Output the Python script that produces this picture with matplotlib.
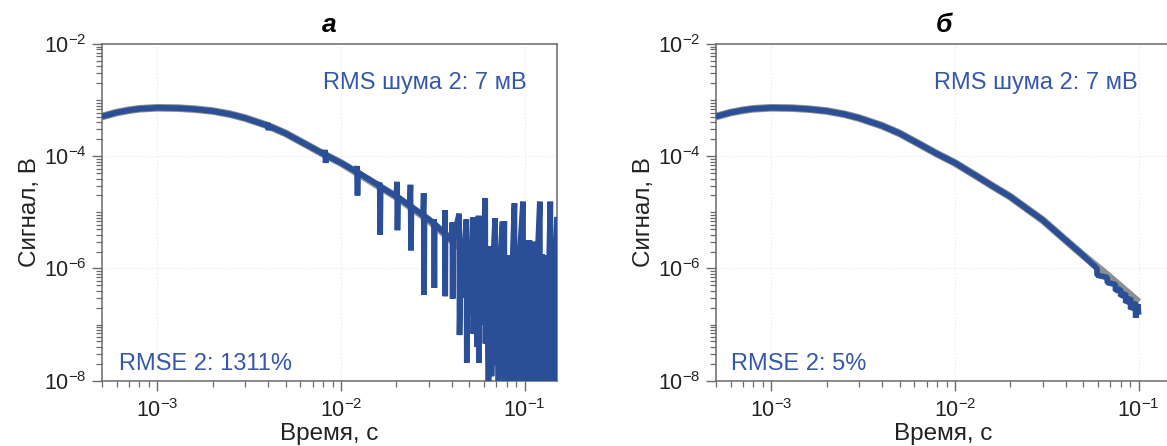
import matplotlib
matplotlib.use("Agg")
import matplotlib.pyplot as plt
from matplotlib.ticker import LogLocator, NullFormatter

plt.rcParams['font.family'] = ['Liberation Sans', 'DejaVu Sans']
plt.rcParams['mathtext.fontset'] = 'custom'
plt.rcParams['mathtext.rm'] = 'Liberation Sans'
plt.rcParams['mathtext.it'] = 'Liberation Sans:italic'
plt.rcParams['mathtext.bf'] = 'Liberation Sans:bold'
plt.rcParams['mathtext.default'] = 'regular'
plt.rcParams['path.simplify'] = False

# ---- data ----
titles = ['а', 'б']
noise_text = 'RMS шума 2: 7 мВ'
rmse_texts = ['RMSE 2: 1311%', 'RMSE 2: 5%']

# smooth model curve (gray)
time_model_a = [5e-4, 6e-4, 7e-4, 8e-4, 1e-3, 1.3e-3, 1.6e-3, 2e-3, 2.5e-3, 3e-3, 4e-3, 5e-3,
                6.5e-3, 8e-3, 1e-2, 1.3e-2, 1.6e-2, 2e-2, 2.5e-2, 3e-2, 4e-2, 5e-2, 6.5e-2,
                8e-2, 1e-1, 1.25e-1, 1.5e-1]
signal_model_a = [5.1e-4, 6.0e-4, 6.6e-4, 7.0e-4, 7.3e-4, 7.2e-4, 6.9e-4, 6.4e-4, 5.6e-4, 4.8e-4,
                  3.5e-4, 2.55e-4, 1.6e-4, 1.1e-4, 7.6e-5, 4.5e-5, 2.95e-5, 1.9e-5, 1.12e-5,
                  7.3e-6, 3.2e-6, 1.7e-6, 8.2e-7, 4.6e-7, 2.4e-7, 1.26e-7, 7.4e-8]

time_model_b = [5e-4, 6e-4, 7e-4, 8e-4, 1e-3, 1.3e-3, 1.6e-3, 2e-3, 2.5e-3, 3e-3, 4e-3, 5e-3,
                6.5e-3, 8e-3, 1e-2, 1.3e-2, 1.6e-2, 2e-2, 2.5e-2, 3e-2, 4e-2, 5e-2, 6.5e-2,
                8e-2, 1e-1]
signal_model_b = [5.1e-4, 6.0e-4, 6.6e-4, 7.0e-4, 7.3e-4, 7.2e-4, 6.9e-4, 6.4e-4, 5.6e-4, 4.8e-4,
                  3.5e-4, 2.55e-4, 1.6e-4, 1.1e-4, 7.6e-5, 4.5e-5, 2.95e-5, 1.9e-5, 1.12e-5,
                  7.3e-6, 3.2e-6, 1.7e-6, 8.4e-7, 4.7e-7, 2.5e-7]

# noisy measured signal, panel a
time_a = [5.0e-4, 6.0e-4, 7.0e-4, 8.0e-4, 1.0e-3, 1.3e-3, 1.6e-3, 2.0e-3, 2.5e-3, 3.0e-3,
          3.95e-3, 4.0e-3, 4.03e-3, 4.06e-3, 5.0e-3, 6.5e-3,
          8.15e-3, 8.2e-3, 8.25e-3, 8.3e-3, 1.0e-2,
          1.21e-2, 1.22e-2, 1.23e-2, 1.24e-2,
          1.6e-2, 1.625e-2, 1.635e-2, 1.645e-2,
          2.0e-2, 2.02e-2, 2.03e-2, 2.045e-2,
          2.37e-2, 2.39e-2, 2.405e-2, 2.42e-2,
          2.8e-2, 2.82e-2, 2.835e-2, 2.85e-2,
          3.2e-2, 3.21e-2, 3.225e-2, 3.24e-2,
          3.67e-2, 3.68e-2, 3.695e-2, 3.71e-2,
          4.03e-2, 4.04e-2, 4.055e-2, 4.07e-2,
          4.4e-2, 4.42e-2, 4.5e-2, 4.6e-2, 4.7e-2, 4.82e-2, 4.84e-2, 4.95e-2,
          5.05e-2, 5.15e-2, 5.24e-2, 5.26e-2, 5.4e-2, 5.5e-2, 5.61e-2, 5.63e-2,
          5.75e-2, 5.85e-2, 5.95e-2, 6.1e-2, 6.12e-2, 6.25e-2, 6.35e-2, 6.49e-2,
          6.6e-2, 6.75e-2, 6.9e-2, 6.92e-2, 7.05e-2, 7.2e-2, 7.35e-2, 7.58e-2,
          7.6e-2, 7.75e-2, 7.78e-2, 7.95e-2, 8.1e-2, 8.3e-2, 8.45e-2, 8.6e-2,
          8.8e-2, 8.82e-2, 9.0e-2, 9.2e-2, 9.4e-2, 9.8e-2, 9.82e-2, 1.0e-1,
          1.03e-1, 1.06e-1, 1.09e-1, 1.12e-1, 1.15e-1, 1.18e-1, 1.21e-1, 1.215e-1,
          1.24e-1, 1.27e-1, 1.30e-1, 1.33e-1, 1.36e-1, 1.38e-1, 1.385e-1, 1.41e-1,
          1.44e-1, 1.47e-1, 1.50e-1]
signal_a = [5.1e-4, 6.0e-4, 6.6e-4, 7.0e-4, 7.3e-4, 7.2e-4, 6.9e-4, 6.4e-4, 5.6e-4, 4.8e-4,
            3.55e-4, 3.9e-4, 2.9e-4, 3.45e-4, 2.55e-4, 1.6e-4,
            1.07e-4, 1.3e-4, 7.6e-5, 1.04e-4, 7.6e-5,
            5.3e-5, 6.7e-5, 2.0e-5, 5.1e-5,
            3.05e-5, 3.4e-5, 4.0e-6, 2.85e-5,
            1.92e-5, 3.5e-5, 4.8e-6, 1.85e-5,
            1.3e-5, 3.1e-5, 2.1e-6, 1.25e-5,
            8.9e-6, 2.2e-5, 3.4e-7, 8.6e-6,
            6.4e-6, 7.5e-6, 4.5e-7, 6.2e-6,
            4.2e-6, 1.1e-5, 3.2e-7, 4.1e-6,
            3.2e-6, 6.6e-6, 2.9e-7, 3.1e-6,
            9.5e-6, 6.5e-8, 2.6e-6, 3e-7, 2.4e-6, 7.5e-6, 2.1e-8, 2.0e-6,
            1.5e-7, 1.9e-6, 8.1e-6, 6.9e-8, 1.8e-6, 4e-8, 8.7e-6, 2.1e-8,
            1.7e-6, 1e-7, 1.6e-6, 1.8e-5, 4.6e-8, 1.5e-6, 3e-9, 2.5e-6,
            1.2e-8, 1.4e-6, 7.8e-6, 1.9e-8, 1.6e-6, 3e-9, 1.5e-6, 6.8e-6,
            1.35e-8, 7e-6, 2e-9, 1.6e-6, 5e-9, 1.7e-6, 3e-9, 1.5e-6,
            1.45e-5, 2e-9, 1.6e-6, 1e-8, 1.8e-6, 1.55e-5, 2e-9, 3.2e-6,
            1e-9, 3.2e-6, 2e-9, 3.0e-6, 5e-9, 2.2e-6, 1.55e-5, 2e-9,
            1.8e-6, 3e-9, 1.7e-6, 1e-9, 1.6e-6, 1.55e-5, 2e-9, 1.8e-6,
            4e-9, 1.6e-6, 8.3e-6]

# measured signal, panel b (small dips near the end)
time_b = [5e-4, 6e-4, 7e-4, 8e-4, 1e-3, 1.3e-3, 1.6e-3, 2e-3, 2.5e-3, 3e-3, 4e-3, 5e-3,
          6.5e-3, 8e-3, 1e-2, 1.3e-2, 1.6e-2, 2e-2, 2.5e-2, 3e-2, 4e-2, 5e-2,
          5.93e-2, 5.94e-2, 6.74e-2, 6.75e-2, 7.47e-2, 7.48e-2, 7.97e-2, 7.98e-2,
          8.49e-2, 8.5e-2, 9.03e-2, 9.04e-2, 9.62e-2, 9.63e-2, 9.9e-2, 1e-1]
signal_b = [5.1e-4, 6.0e-4, 6.6e-4, 7.0e-4, 7.3e-4, 7.2e-4, 6.9e-4, 6.4e-4, 5.6e-4, 4.8e-4,
            3.5e-4, 2.55e-4, 1.6e-4, 1.1e-4, 7.6e-5, 4.5e-5, 2.95e-5, 1.9e-5, 1.12e-5,
            7.3e-6, 3.2e-6, 1.7e-6,
            1.0e-6, 7.6e-7, 6.9e-7, 5.6e-7, 5.2e-7, 4.0e-7, 4.3e-7, 3.2e-7,
            3.6e-7, 2.45e-7, 3.0e-7, 1.87e-7, 2.5e-7, 1.33e-7, 2.3e-7, 1.5e-7]

xlim = (5e-4, 0.15)
ylim = (1e-8, 1e-2)

BLUE = '#2b4f97'
TEXT_BLUE = '#3558a8'
GRAY = '#8a8f8f'
SPINE = '#6a6a6a'

W, H = 1167, 446
fig = plt.figure(figsize=(W / 100, H / 100), dpi=100)
ax_a = fig.add_axes([102 / W, 1 - 380.7 / H, 455 / W, 336.7 / H])
ax_b = fig.add_axes([716 / W, 1 - 380.7 / H, 455 / W, 336.7 / H])

panels = [
    (ax_a, time_model_a, signal_model_a, time_a, signal_a),
    (ax_b, time_model_b, signal_model_b, time_b, signal_b),
]

for i, (ax, tm, vm, td, vd) in enumerate(panels):
    ax.set_xscale('log')
    ax.set_yscale('log')
    ax.plot(tm, vm, color=GRAY, lw=5.5, solid_capstyle='butt', zorder=2)
    ax.plot(td, vd, color=BLUE, lw=4.1, solid_joinstyle='bevel',
            solid_capstyle='butt', zorder=3)
    ax.set_xlim(*xlim)
    ax.set_ylim(*ylim)
    ax.set_xticks([1e-3, 1e-2, 1e-1])
    ax.set_yticks([1e-8, 1e-6, 1e-4, 1e-2])
    ax.xaxis.set_minor_locator(LogLocator(base=10, subs=range(2, 10), numticks=20))
    ax.yaxis.set_minor_locator(LogLocator(base=10, subs=range(1, 10), numticks=20))
    ax.xaxis.set_minor_formatter(NullFormatter())
    ax.yaxis.set_minor_formatter(NullFormatter())
    ax.tick_params(which='major', length=7, width=1.0, color=SPINE, labelsize=15.5,
                   labelcolor='#222222', direction='out')
    ax.tick_params(axis='x', which='major', pad=6)
    ax.tick_params(axis='y', which='major', pad=4)
    ax.tick_params(which='minor', length=4, width=0.9, color=SPINE, direction='out')
    for sp in ax.spines.values():
        sp.set_color(SPINE)
        sp.set_linewidth(1.1)
    ax.grid(True, which='major', color='#e6e6e6', linestyle=(0, (1, 2)), lw=0.8, zorder=0)
    ax.set_xlabel('Время, с', fontsize=17.5, color='#222222', labelpad=1)
    ax.set_ylabel('Сигнал, В', fontsize=17.5, color='#222222', labelpad=2)
    ax.set_title(titles[i], fontsize=19, fontweight='bold', style='italic', pad=9)
    ax.text(0.485 if i == 0 else 0.479, 0.884, noise_text, transform=ax.transAxes,
            fontsize=17, color=TEXT_BLUE, ha='left', va='center', zorder=5)
    ax.text(0.037 if i == 0 else 0.034, 0.05, rmse_texts[i], transform=ax.transAxes,
            fontsize=17, color=TEXT_BLUE, ha='left', va='center', zorder=5)

fig.savefig('out.png', dpi=100)
